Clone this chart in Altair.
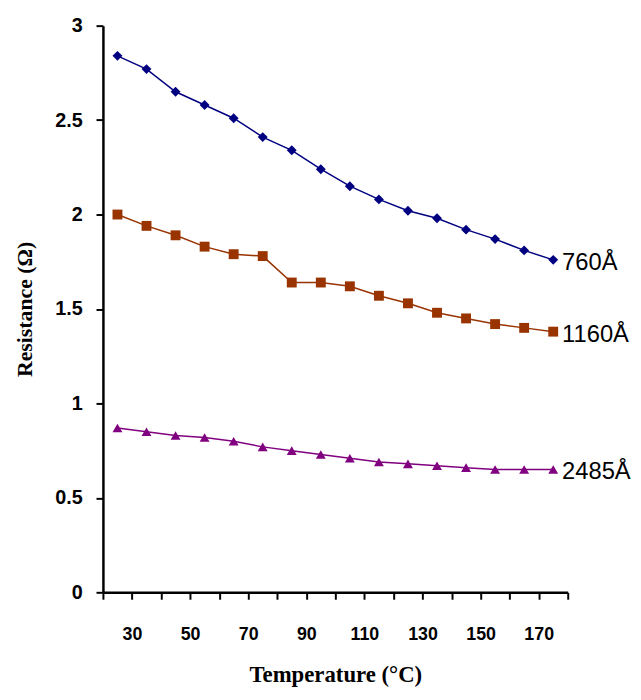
import altair as alt
import pandas as pd

temps = [25, 35, 45, 55, 65, 75, 85, 95, 105, 115, 125, 135, 145, 155, 165, 175]
r_760 = [2.84, 2.77, 2.65, 2.58, 2.51, 2.41, 2.34, 2.24, 2.15, 2.08, 2.02, 1.98, 1.92, 1.87, 1.81, 1.76]
r_1160 = [2.00, 1.94, 1.89, 1.83, 1.79, 1.78, 1.64, 1.64, 1.62, 1.57, 1.53, 1.48, 1.45, 1.42, 1.40, 1.38]
r_2485 = [0.87, 0.85, 0.83, 0.82, 0.80, 0.77, 0.75, 0.73, 0.71, 0.69, 0.68, 0.67, 0.66, 0.65, 0.65, 0.65]
series_names = ["760Å", "1160Å", "2485Å"]
series_colors = ["#000080", "#993300", "#800080"]
series_shapes = ["diamond", "square", "triangle-up"]
x_ticks = [20, 30, 40, 50, 60, 70, 80, 90, 100, 110, 120, 130, 140, 150, 160, 170, 180]
y_ticks = [0, 0.5, 1, 1.5, 2, 2.5, 3]

rows = []
for name, vals in zip(series_names, [r_760, r_1160, r_2485]):
    for t, v in zip(temps, vals):
        rows.append({"series": name, "temp": t, "res": v})
df = pd.DataFrame(rows)
last = df.groupby("series", sort=False).tail(1)

x = alt.X("temp:Q", scale=alt.Scale(domain=[20, 180], nice=False, zero=False),
          axis=alt.Axis(values=x_ticks, title="Temperature (°C)",
                        labelExpr="datum.value % 20 == 10 ? datum.label : ''",
                        grid=False, domainColor="black", domainWidth=2.5,
                        tickColor="black", tickWidth=2, tickSize=7,
                        labelFont="Liberation Sans, Arial, sans-serif",
                        labelFontWeight="bold", labelFontSize=18, labelColor="black",
                        labelPadding=27,
                        titleFont="Liberation Serif, DejaVu Serif, serif", titleFontSize=23,
                        titleFontWeight="bold", titleColor="black", titlePadding=20))
y = alt.Y("res:Q", scale=alt.Scale(domain=[0, 3], nice=False),
          axis=alt.Axis(values=y_ticks, title="Resistance (Ω)", grid=False, format=".1~f",
                        domainColor="black", domainWidth=2.5,
                        tickColor="black", tickWidth=2, tickSize=7,
                        labelFont="Liberation Sans, Arial, sans-serif",
                        labelFontWeight="bold", labelFontSize=20, labelColor="black",
                        labelPadding=14,
                        titleFont="Liberation Serif, DejaVu Serif, serif", titleFontSize=22,
                        titleFontWeight="bold", titleColor="black", titlePadding=18))
color = alt.Color("series:N", scale=alt.Scale(domain=series_names, range=series_colors), legend=None)
shape = alt.Shape("series:N", scale=alt.Scale(domain=series_names, range=series_shapes), legend=None)

lines = alt.Chart(df).mark_line(strokeWidth=1.5).encode(x=x, y=y, color=color, detail="series:N")
points = alt.Chart(df).mark_point(filled=True, opacity=1, size=100).encode(x=x, y=y, color=color, shape=shape)
labels = alt.Chart(last).mark_text(
    align="left", baseline="middle", dx=9, dy=3,
    font="Liberation Sans, Arial, sans-serif",
    fontSize=24, color="black"
).encode(x=x, y=y, text="series:N")

chart = alt.layer(lines, points, labels).properties(
    width=470, height=573,
    background="white",
    autosize=alt.AutoSizeParams(type="none"),
    padding={"left": 96, "top": 14, "right": 66, "bottom": 100},
).configure_view(strokeOpacity=0, strokeWidth=0)

chart.save("out.html", embed_options={"renderer": "svg", "actions": False})
